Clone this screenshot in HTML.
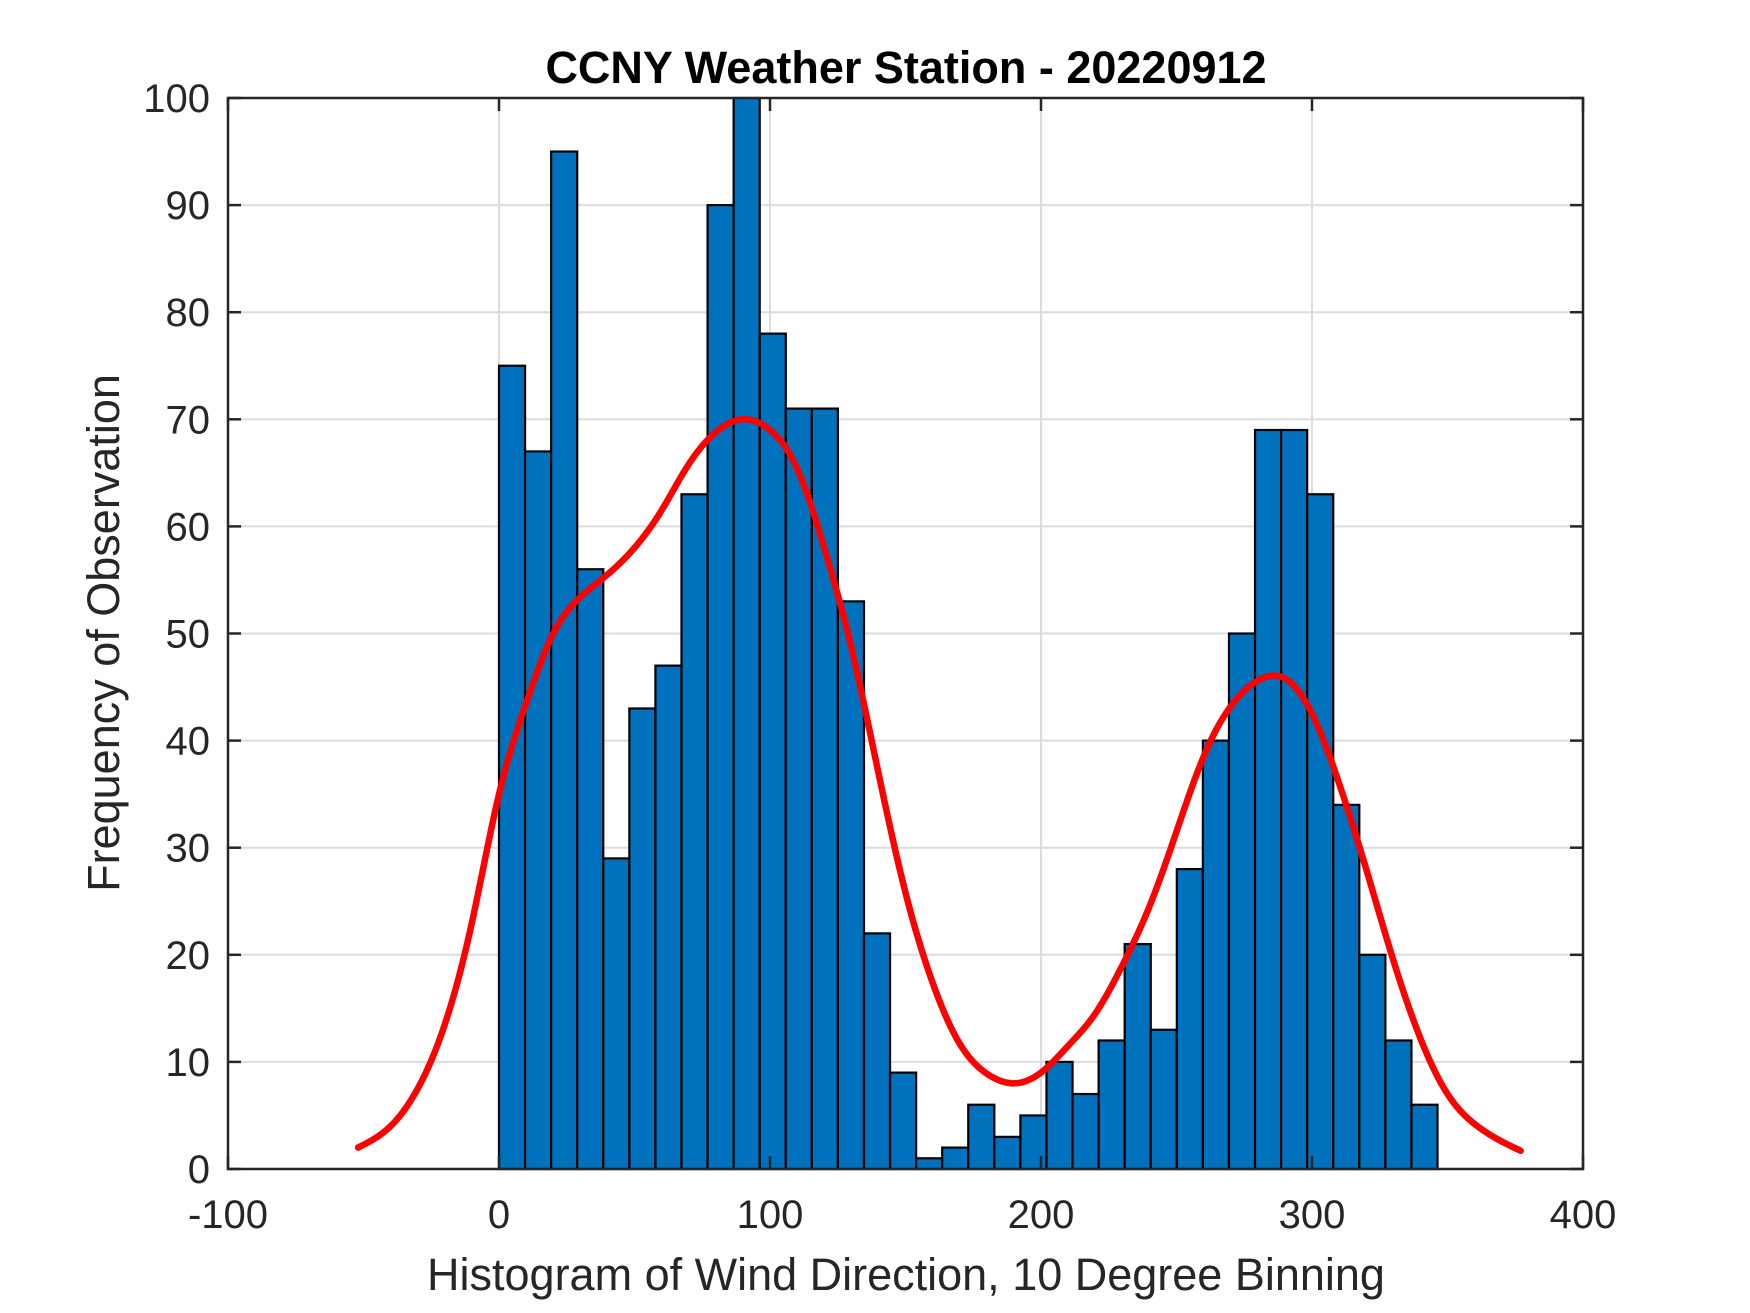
<!DOCTYPE html>
<html><head><meta charset="utf-8"><style>
html,body{margin:0;padding:0;background:#fff;}
svg{display:block;}
text{font-family:"Liberation Sans",Arial,sans-serif;fill:#262626;}
</style></head><body>
<svg id="chart" width="1750" height="1313" viewBox="0 0 1750 1313" xmlns="http://www.w3.org/2000/svg">
<rect width="1750" height="1313" fill="#fff"/>
<g id="grid"></g>
<g id="bars"></g>
<g id="curve"></g>
<g id="axes"></g>
<text x="906" y="83" text-anchor="middle" font-size="45" font-weight="bold" style="fill:#000">CCNY Weather Station - 20220912</text>
<text x="906" y="1290" text-anchor="middle" font-size="45">Histogram of Wind Direction, 10 Degree Binning</text>
<text transform="translate(119,633) rotate(-90)" text-anchor="middle" font-size="45">Frequency of Observation</text>
</svg>
<script>
const binCounts=[75,67,95,56,29,43,47,63,90,100,78,71,71,53,22,9,1,2,6,3,5,10,7,12,21,13,28,40,50,69,69,63,34,20,12,6];
const binWidth=9.62;
const binStart=0;
const curveX=[-52,-40,-30,-20,-10,0,10,20,30,40,50,60,70,80,90,100,110,120,130,140,150,160,170,180,190,200,210,220,230,240,250,260,270,280,290,300,310,320,330,340,350,360,377];
const curveY=[2,4,7.5,13.5,23,35,43.5,50,53.4,55.5,58,61.5,65.8,68.8,70,69,65.4,58,48.7,37,25.8,17.4,11.7,8.9,8,9,11.5,14.5,19,24.5,31.5,38.5,43.2,45.6,45.8,42.5,36,28,19.5,12.2,7,4.2,1.7];
const xTicks=[-100,0,100,200,300,400];
const yTicks=[0,10,20,30,40,50,60,70,80,90,100];
</script>
<script>
const NS="http://www.w3.org/2000/svg";
const L=228,R=1583,T=98,B=1169;
const xs=v=>L+(v+100)/500*(R-L);
const ys=v=>B-v/100*(B-T);
function mk(tag,attrs,parent){const e=document.createElementNS(NS,tag);for(const k in attrs)e.setAttribute(k,attrs[k]);parent.appendChild(e);return e;}
const grid=document.getElementById('grid'),bars=document.getElementById('bars'),curve=document.getElementById('curve'),axes=document.getElementById('axes');
xTicks.forEach(t=>{
  const g=mk('line',{x1:xs(t),x2:xs(t),y1:T,y2:B,stroke:'#dcdcdc','stroke-width':2},grid);
  
  
});
yTicks.forEach(t=>{
  const g=mk('line',{x1:L,x2:R,y1:ys(t),y2:ys(t),stroke:'#dcdcdc','stroke-width':2},grid);
  
  
});
binCounts.forEach((c,i)=>{
  const x0=xs(binStart+i*binWidth),x1=xs(binStart+(i+1)*binWidth);
  const r=mk('rect',{x:x0,y:ys(c),width:x1-x0,height:B-ys(c),fill:'#0072BD',stroke:'#000','stroke-width':2.2},bars);
  
  
});
// natural cubic spline through (curveX, curveY)
function spline(X,Y){
  const n=X.length,h=[],a=[],l=[1],mu=[0],z=[0],c=new Array(n).fill(0),b=[],d=[];
  for(let i=0;i<n-1;i++)h.push(X[i+1]-X[i]);
  for(let i=1;i<n-1;i++)a[i]=3/h[i]*(Y[i+1]-Y[i])-3/h[i-1]*(Y[i]-Y[i-1]);
  for(let i=1;i<n-1;i++){l[i]=2*(X[i+1]-X[i-1])-h[i-1]*mu[i-1];mu[i]=h[i]/l[i];z[i]=(a[i]-h[i-1]*z[i-1])/l[i];}
  for(let j=n-2;j>=0;j--){c[j]=(j<n-2||true)?(z[j]||0)-mu[j]*c[j+1]:0;b[j]=(Y[j+1]-Y[j])/h[j]-h[j]*(c[j+1]+2*c[j])/3;d[j]=(c[j+1]-c[j])/(3*h[j]);}
  c[0]=0;
  return x=>{let i=0;while(i<n-2&&x>X[i+1])i++;const t=x-X[i];return Y[i]+b[i]*t+c[i]*t*t+d[i]*t*t*t;};
}
const f=spline(curveX,curveY);
let d='';
const x0=curveX[0],x1=curveX[curveX.length-1];
for(let s=0;s<=600;s++){const x=x0+(x1-x0)*s/600;d+=(s?' L':'M')+xs(x).toFixed(2)+','+ys(f(x)).toFixed(2);}
const pc=mk('path',{d:d,fill:'none',stroke:'#ff0000','stroke-width':6.5,'stroke-linecap':'round','stroke-linejoin':'round'},curve);


const box=mk('rect',{x:L,y:T,width:R-L,height:B-T,fill:'none',stroke:'#262626','stroke-width':2.5},axes);


xTicks.forEach(t=>{
  mk('line',{x1:xs(t),x2:xs(t),y1:B,y2:B-13,stroke:'#262626','stroke-width':2.5},axes);
  mk('line',{x1:xs(t),x2:xs(t),y1:T,y2:T+13,stroke:'#262626','stroke-width':2.5},axes);
  const tx=mk('text',{x:xs(t),y:1228,'text-anchor':'middle','font-size':40},axes);
  tx.textContent=t;
  
  
});
yTicks.forEach(t=>{
  mk('line',{x1:L,x2:L+13,y1:ys(t),y2:ys(t),stroke:'#262626','stroke-width':2.5},axes);
  mk('line',{x1:R,x2:R-13,y1:ys(t),y2:ys(t),stroke:'#262626','stroke-width':2.5},axes);
  const tx=mk('text',{x:210,y:ys(t)+14,'text-anchor':'end','font-size':40},axes);
  tx.textContent=t;
  
  
});
</script>
</body></html>
